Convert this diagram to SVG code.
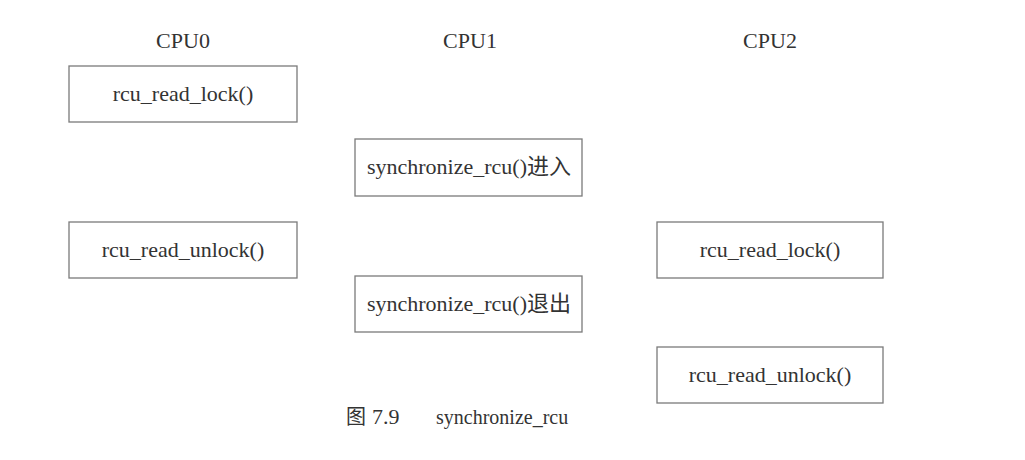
<svg xmlns="http://www.w3.org/2000/svg" width="1025" height="460" viewBox="0 0 1025 460">
<style>
.box{fill:#fff;stroke:#7a7a7a;stroke-width:1.3}
.t{font-family:"Liberation Serif","Noto Sans CJK SC",serif;font-size:22px;fill:#333;text-anchor:middle}
.h{font-family:"Liberation Serif","Noto Sans CJK SC",serif;font-size:22px;fill:#333;text-anchor:middle}
.c{font-family:"Liberation Serif","Noto Sans CJK SC",serif;font-size:20px;fill:#333}
</style>
<rect width="1025" height="460" fill="#fff"/>
<g id="headers">
<text class="h" x="183" y="48">CPU0</text>
<text class="h" x="470" y="48">CPU1</text>
<text class="h" x="770" y="48">CPU2</text>
</g>
<g id="cpu0-lock"><rect class="box" x="69" y="66" width="228" height="56"/><text class="t" x="183" y="101">rcu_read_lock()</text></g>
<g id="cpu0-unlock"><rect class="box" x="69" y="222" width="228" height="56"/><text class="t" x="183" y="257">rcu_read_unlock()</text></g>
<g id="cpu1-enter"><rect class="box" x="355" y="139" width="227" height="57"/><text class="t" x="469" y="174">synchronize_rcu()进入</text></g>
<g id="cpu1-exit"><rect class="box" x="355" y="276" width="227" height="56"/><text class="t" x="469" y="311">synchronize_rcu()退出</text></g>
<g id="cpu2-lock"><rect class="box" x="657" y="222" width="226" height="56"/><text class="t" x="770" y="257">rcu_read_lock()</text></g>
<g id="cpu2-unlock"><rect class="box" x="657" y="347" width="226" height="56"/><text class="t" x="770" y="382">rcu_read_unlock()</text></g>
<g id="connectors"></g>
<g id="caption">
<text class="c" x="346" y="424">图 <tspan x="372" font-size="22">7.9</tspan></text>
<text class="c" x="436" y="424">synchronize_rcu</text>
</g>
</svg>
